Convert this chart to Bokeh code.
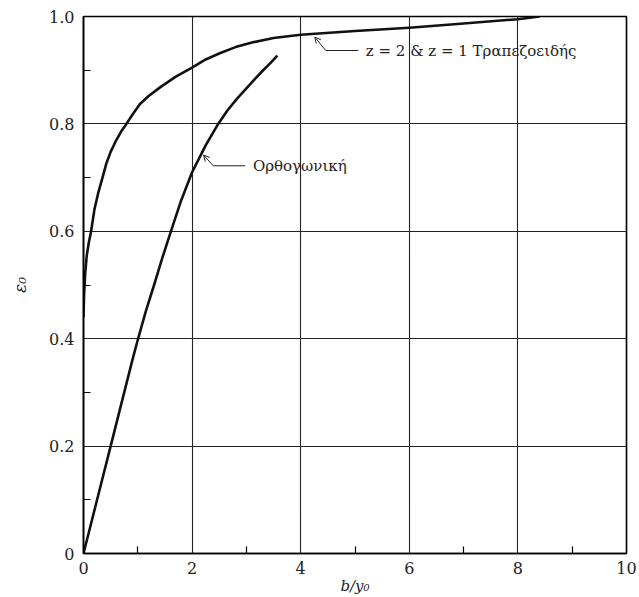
import numpy as np
from bokeh.plotting import figure
from bokeh.models import FixedTicker, Range1d, Label, Arrow, OpenHead
from bokeh.embed import file_html
from bokeh.resources import INLINE

# ---- data ----
trap_x = [0.0, 0.01, 0.03, 0.06, 0.1, 0.14, 0.2, 0.27, 0.35, 0.42, 0.5, 0.6, 0.7, 0.79, 0.9,
          1.04, 1.2, 1.41, 1.7, 2.0, 2.25, 2.52, 2.8, 3.12, 3.5, 4.0, 5.0, 6.0, 7.0, 8.0, 8.4]
trap_y = [0.44, 0.48, 0.52, 0.555, 0.58, 0.60, 0.64, 0.671, 0.70, 0.726, 0.748, 0.769, 0.787, 0.80, 0.817,
          0.837, 0.852, 0.868, 0.888, 0.905, 0.92, 0.932, 0.943, 0.952, 0.96, 0.966, 0.973, 0.979, 0.987, 0.995, 1.0]

rect_x = [0.0, 0.25, 0.5, 0.75, 0.9, 1.0, 1.15, 1.3, 1.45, 1.61, 1.8, 2.0, 2.25, 2.48, 2.65, 2.82, 3.0, 3.15, 3.3, 3.45, 3.57]
rect_y = [0.0, 0.10, 0.20, 0.30, 0.36, 0.398, 0.452, 0.50, 0.55, 0.60, 0.658, 0.71, 0.76, 0.80, 0.825, 0.846, 0.866, 0.883, 0.899, 0.914, 0.927]

x_ticks = [0, 2, 4, 6, 8, 10]
x_tick_labels = ["0", "2", "4", "6", "8", "10"]
x_minor = [1, 3, 5, 7, 9]
y_ticks = [0.0, 0.2, 0.4, 0.6, 0.8, 1.0]
y_tick_labels = ["0", "0.2", "0.4", "0.6", "0.8", "1.0"]
y_minor = [0.1, 0.3, 0.5, 0.7, 0.9]

trap_label = "z = 2 & z = 1 Τραπεζοειδής"
rect_label = "Ορθογωνική"
x_title = "b/y₀"
y_title = "ε₀"

FONT = "DejaVu Serif"
INK = "#222222"

p = figure(width=639, height=597, x_range=Range1d(0, 10), y_range=Range1d(0, 1.0),
           output_backend="svg", toolbar_location=None,
           min_border_left=83, min_border_right=13, min_border_top=16, min_border_bottom=44)
p.background_fill_color = "white"
p.border_fill_color = "white"
p.outline_line_color = "black"
p.outline_line_width = 1.6

p.xaxis.ticker = FixedTicker(ticks=x_ticks, minor_ticks=x_minor)
p.yaxis.ticker = FixedTicker(ticks=y_ticks, minor_ticks=y_minor)
p.xaxis.major_label_overrides = {t: l for t, l in zip(x_ticks, x_tick_labels)}
p.yaxis.major_label_overrides = {t: l for t, l in zip(y_ticks, y_tick_labels)}

for ax in (p.xaxis[0], p.yaxis[0]):
    ax.axis_line_color = "black"
    ax.axis_line_width = 1.6
    ax.major_tick_in = 0
    ax.major_tick_out = 0
    ax.minor_tick_in = 7
    ax.minor_tick_out = 0
    ax.minor_tick_line_color = "black"
    ax.minor_tick_line_width = 1.2
    ax.major_label_text_font = FONT
    ax.major_label_text_font_size = "16px"
    ax.major_label_text_color = INK
    ax.axis_label_text_font = FONT
    ax.axis_label_text_font_style = "italic"
    ax.axis_label_text_color = INK

p.xaxis.axis_label = x_title
p.yaxis.axis_label = y_title
p.xaxis.axis_label_text_font_size = "15px"
p.yaxis.axis_label_text_font_size = "17px"
p.xaxis.major_label_standoff = 8
p.xaxis.axis_label_standoff = 0
p.yaxis.major_label_standoff = 9
p.yaxis.axis_label_standoff = 16
p.yaxis.major_label_orientation = "horizontal"

p.xgrid.ticker = FixedTicker(ticks=x_ticks)
p.ygrid.ticker = FixedTicker(ticks=y_ticks)
for g in (p.xgrid[0], p.ygrid[0]):
    g.grid_line_color = "#222222"
    g.grid_line_width = 1.1

p.line(trap_x, trap_y, line_color="#111111", line_width=2.6, line_join="round")
p.line(rect_x, rect_y, line_color="#111111", line_width=2.6, line_join="round")

# ---- leader annotations ----
def leader(curve_x, curve_y, tip_x, dx1, dy1, dx2, text):
    ty = float(np.interp(tip_x, curve_x, curve_y))
    bx, by = tip_x + dx1, ty - dy1
    ex = bx + dx2
    p.line([bx, ex], [by, by], line_color=INK, line_width=1)
    p.add_layout(Arrow(end=OpenHead(size=6, line_width=1, line_color=INK),
                       x_start=bx, y_start=by, x_end=tip_x + 0.02, y_end=ty - 0.006,
                       line_color=INK, line_width=1))
    p.add_layout(Label(x=ex + 0.14, y=by, text=text, text_font=FONT,
                       text_font_size="15px", text_baseline="middle",
                       text_color=INK))

leader(trap_x, trap_y, 4.24, 0.22, 0.031, 0.6, trap_label)
leader(rect_x, rect_y, 2.19, 0.2, 0.026, 0.59, rect_label)

open("out.html", "w").write(file_html(p, INLINE))
